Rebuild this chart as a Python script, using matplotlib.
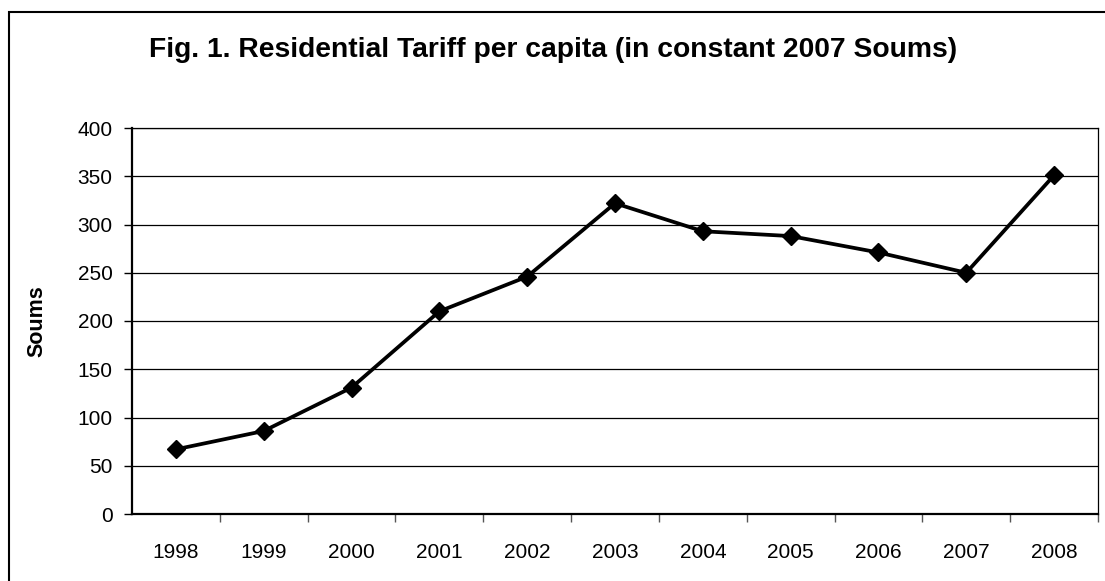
import matplotlib
matplotlib.use("Agg")
import matplotlib.pyplot as plt
from matplotlib.patches import Rectangle

years = ["1998", "1999", "2000", "2001", "2002", "2003", "2004", "2005", "2006", "2007", "2008"]
soums = [67, 86, 131, 210, 246, 322, 293, 288, 271, 250, 351]
yticks = [0, 50, 100, 150, 200, 250, 300, 350, 400]

plt.rcParams['font.family'] = ['Liberation Sans', 'DejaVu Sans']

W, H = 1105, 581
fig = plt.figure(figsize=(W / 100, H / 100), dpi=100)
fig.patch.set_facecolor('white')

# figure border
fig.patches.append(Rectangle((9 / W, -0.1), 1.2, 1 - 12 / H + 0.1, transform=fig.transFigure,
                             fill=False, edgecolor='black', linewidth=1.5))

left, right, top, bottom = 132, 1098, 128, 514
ax = fig.add_axes([left / W, 1 - bottom / H, (right - left) / W, (bottom - top) / H])

x = list(range(len(years)))
ax.plot(x, soums, color='black', linewidth=2.7, marker='D', markersize=9.5,
        markerfacecolor='black', markeredgecolor='black', zorder=3)

ax.set_xlim(-0.5, len(years) - 0.5)
ax.set_ylim(0, 400)
ax.set_yticks(yticks)
ax.set_yticklabels([str(v) for v in yticks], fontsize=15)
ax.set_xticks(x)
ax.set_xticklabels(years, fontsize=15)
ax.tick_params(axis='x', which='major', length=0, pad=21)
ax.set_xticks([i + 0.5 for i in x], minor=True)
ax.tick_params(axis='x', which='minor', length=6, width=1, direction='out', color='#555555')
ax.tick_params(axis='y', length=6, width=1, direction='out', pad=8)

ax.yaxis.grid(True, color='black', linewidth=0.9)
ax.set_axisbelow(True)
for side in ['left', 'bottom']:
    ax.spines[side].set_linewidth(1.6)
for side in ['top', 'right']:
    ax.spines[side].set_linewidth(0.9)

ax.set_ylabel("Soums", fontsize=15.5, fontweight='bold', labelpad=12)
ax.yaxis.set_label_coords(-85 / (right - left), 0.5)
fig.text(553 / W, 1 - 50 / H, "Fig. 1. Residential Tariff per capita (in constant 2007 Soums)",
         ha='center', va='center', fontsize=20.3, fontweight='bold')

fig.savefig("out.png", dpi=100)
